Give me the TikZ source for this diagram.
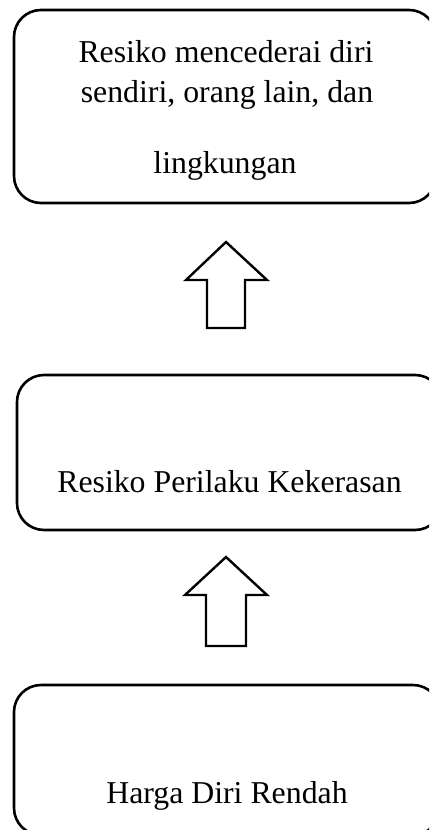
\documentclass[tikz,border=0pt]{standalone}
\usepackage{fontspec}
\setmainfont{Liberation Serif}
\begin{document}
\begin{tikzpicture}[x=1pt,y=-1pt,
  box/.style={draw, line width=2.6pt, rounded corners=27pt, inner sep=0pt},
  lbl/.style={anchor=base, inner sep=0pt, font=\fontsize{31.8}{38}\selectfont},
  blockarrow/.style={draw, line width=2.4pt, line join=miter}]
\useasboundingbox (0,0) rectangle (429,830);
\clip (0,0) rectangle (429,830);
% boxes
\node[box, minimum width=422pt, minimum height=193pt] (b1) at (225,106.5) {};
\node[box, minimum width=425pt, minimum height=155pt] (b2) at (229.5,452.5) {};
\node[box, minimum width=426pt, minimum height=150pt] (b3) at (227,760) {};
% texts
\node[lbl] (t1a) at (226,62) {Resiko mencederai diri};
\node[lbl] (t1b) at (227,102) {sendiri, orang lain, dan};
\node[lbl] (t1c) at (225,173) {lingkungan};
\node[lbl] (t2) at (229.5,492) {Resiko Perilaku Kekerasan};
\node[lbl] (t3) at (227,803) {Harga Diri Rendah};
% block arrows
\draw[blockarrow] (226,242) -- (267,280) -- (245,280) -- (245,328) -- (207,328) -- (207,280) -- (186,280) -- cycle;
\draw[blockarrow] (226,557) -- (267,595) -- (246,595) -- (246,646) -- (206,646) -- (206,595) -- (185,595) -- cycle;
\end{tikzpicture}
\end{document}
